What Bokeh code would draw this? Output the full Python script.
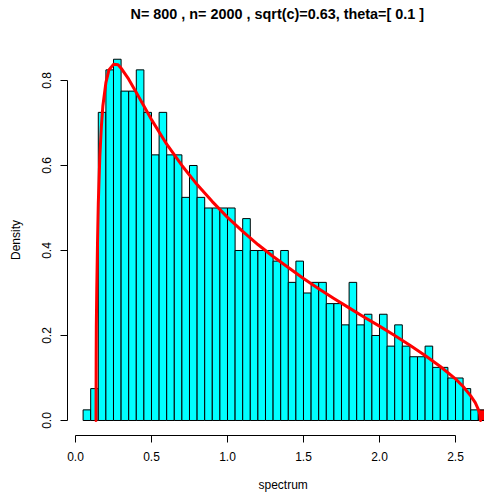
from bokeh.plotting import figure
from bokeh.models import Range1d, FixedTicker, PrintfTickFormatter, Title, ColumnDataSource
from bokeh.embed import file_html
from bokeh.resources import INLINE

# Histogram of the sample spectrum (density scale, bins of width 0.05)
break_start = 0.05
break_width = 0.05
densities = [0.025, 0.075, 0.725, 0.825, 0.850, 0.775, 0.775, 0.825, 0.725, 0.625,
             0.725, 0.625, 0.625, 0.525, 0.600, 0.525, 0.500, 0.500, 0.500, 0.500,
             0.400, 0.475, 0.400, 0.400, 0.400, 0.375, 0.400, 0.325, 0.375, 0.300,
             0.325, 0.325, 0.275, 0.275, 0.225, 0.325, 0.225, 0.250, 0.200, 0.250,
             0.175, 0.225, 0.175, 0.150, 0.150, 0.175, 0.125, 0.125, 0.100, 0.100,
             0.075, 0.025, 0.025]
# bin holding the spiked eigenvalue, drawn in red
spike_bins = [52]

# Limiting spectral density curve
curve_x = [0.135, 0.136, 0.137, 0.140, 0.145, 0.150, 0.160, 0.170, 0.180, 0.200,
           0.220, 0.250, 0.280, 0.300, 0.350, 0.400, 0.450, 0.500, 0.600, 0.700,
           0.800, 0.900, 1.000, 1.100, 1.200, 1.300, 1.400, 1.500, 1.600, 1.700,
           1.800, 1.900, 2.000, 2.100, 2.200, 2.300, 2.400, 2.500, 2.550, 2.600,
           2.630, 2.650, 2.660, 2.665]
curve_y = [0.000, 0.150, 0.220, 0.310, 0.420, 0.510, 0.620, 0.690, 0.740, 0.795,
           0.825, 0.838, 0.837, 0.829, 0.803, 0.772, 0.740, 0.708, 0.650, 0.600,
           0.555, 0.515, 0.478, 0.445, 0.414, 0.386, 0.360, 0.334, 0.310, 0.287,
           0.265, 0.243, 0.222, 0.200, 0.177, 0.153, 0.127, 0.098, 0.080, 0.058,
           0.042, 0.026, 0.015, 0.000]

x_ticks = [0.0, 0.5, 1.0, 1.5, 2.0, 2.5]
y_ticks = [0.0, 0.2, 0.4, 0.6, 0.8]

title_text = "N= 800 , n= 2000 , sqrt(c)=0.63, theta=[ 0.1 ]"
x_label = "spectrum"
y_label = "Density"

FONT = "Liberation Sans"

lefts = [break_start + i * break_width for i in range(len(densities))]
rights = [l + break_width for l in lefts]
colors = ["red" if i in spike_bins else "cyan" for i in range(len(densities))]
bars = ColumnDataSource(dict(left=lefts, right=rights, top=densities,
                             bottom=[0.0] * len(densities), color=colors))

p = figure(width=484, height=494, output_backend="svg", toolbar_location=None,
           x_range=Range1d(-0.0526, 2.6908), y_range=Range1d(-0.0353, 0.8847),
           min_border_left=67, min_border_right=0, min_border_top=44,
           min_border_bottom=59, background_fill_color="white",
           border_fill_color="white")
p.outline_line_color = None
p.grid.visible = False

p.quad(left="left", right="right", top="top", bottom="bottom", source=bars,
       fill_color="color", line_color="black", line_width=1)
p.line(curve_x, curve_y, line_color="red", line_width=3, line_cap="round",
       line_join="round")

for ax in (p.xaxis[0], p.yaxis[0]):
    ax.major_tick_out = 7
    ax.major_tick_in = 0
    ax.minor_tick_out = 0
    ax.minor_tick_in = 0
    ax.axis_line_color = "black"
    ax.major_tick_line_color = "black"
    ax.major_label_text_font = FONT
    ax.major_label_text_font_size = "12px"
    ax.major_label_text_color = "black"
    ax.major_label_standoff = 9
    ax.formatter = PrintfTickFormatter(format="%.1f")

p.xaxis[0].ticker = FixedTicker(ticks=x_ticks)
p.xaxis[0].bounds = (x_ticks[0], x_ticks[-1])
# a blank, tiny axis label keeps room between the tick labels and the x title
p.xaxis[0].axis_label = " "
p.xaxis[0].axis_label_text_font_size = "1px"
p.xaxis[0].axis_label_standoff = 8

p.yaxis[0].ticker = FixedTicker(ticks=y_ticks)
p.yaxis[0].bounds = (y_ticks[0], y_ticks[-1])
p.yaxis[0].major_label_orientation = "vertical"
p.yaxis[0].axis_label = y_label
p.yaxis[0].axis_label_text_font = FONT
p.yaxis[0].axis_label_text_font_size = "12px"
p.yaxis[0].axis_label_text_font_style = "normal"
p.yaxis[0].axis_label_text_color = "black"
p.yaxis[0].axis_label_standoff = 17

# Main title, left-offset so it sits centred over the full plotting region;
# the blank second line leaves the gap above the frame
p.title.text = title_text + "\n "
p.title.align = "left"
p.title.offset = 63
p.title.text_font = FONT
p.title.text_font_size = "14.4px"
p.title.text_font_style = "bold"
p.title.text_color = "black"
p.title.text_line_height = 1.2
p.title.standoff = 6

# x label below the tick labels
p.add_layout(Title(text=x_label, align="left", offset=191, text_font=FONT,
                   text_font_size="12px", text_font_style="normal",
                   text_color="black", standoff=0), "below")

open("out.html", "w").write(file_html(p, INLINE))
